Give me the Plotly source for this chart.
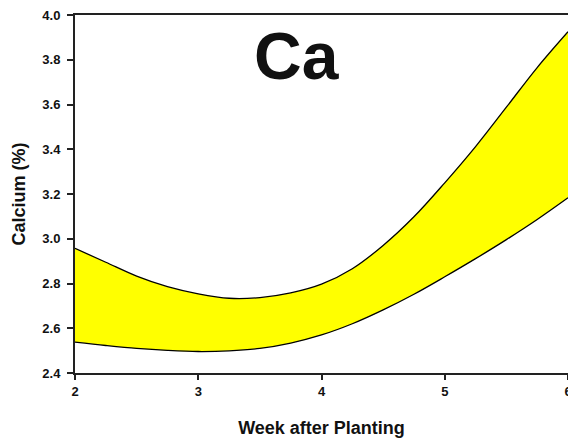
import plotly.graph_objects as go

weeks = [2.0, 2.25, 2.5, 2.75, 3.0, 3.25, 3.5, 3.75, 4.0, 4.25, 4.5, 4.75, 5.0, 5.25, 5.5, 5.75, 6.0]
upper = [2.957, 2.895, 2.833, 2.786, 2.754, 2.734, 2.737, 2.758, 2.797, 2.866, 2.970, 3.098, 3.250, 3.412, 3.588, 3.765, 3.925]
lower = [2.538, 2.523, 2.510, 2.501, 2.496, 2.499, 2.510, 2.534, 2.570, 2.620, 2.682, 2.752, 2.830, 2.911, 2.996, 3.086, 3.183]
x_ticks = [2, 3, 4, 5, 6]
y_ticks = [2.4, 2.6, 2.8, 3.0, 3.2, 3.4, 3.6, 3.8, 4.0]

fig = go.Figure()
fig.add_trace(go.Scatter(x=weeks, y=lower, mode="lines",
                         line=dict(color="black", width=1.3, shape="spline", smoothing=1.0),
                         showlegend=False, hoverinfo="skip"))
fig.add_trace(go.Scatter(x=weeks, y=upper, mode="lines", fill="tonexty",
                         fillcolor="#FFFF00",
                         line=dict(color="black", width=1.3, shape="spline", smoothing=1.0),
                         showlegend=False, hoverinfo="skip"))

font_family = "Liberation Sans, Arial, sans-serif"

fig.update_layout(
    width=568, height=439,
    margin=dict(l=75, r=0, t=15, b=66, autoexpand=False),
    paper_bgcolor="white", plot_bgcolor="white",
    font=dict(family=font_family, color="#111111"),
    annotations=[dict(text="<b>Ca</b>", x=0.45, y=0.885, xref="paper", yref="paper",
                      xanchor="center", yanchor="middle", showarrow=False,
                      font=dict(family=font_family, size=66, color="#111111"))],
)
fig.update_xaxes(
    range=[2, 6], tickvals=x_ticks, ticktext=[f"<b>{v}</b>" for v in x_ticks],
    showgrid=False, zeroline=False,
    showline=True, linecolor="#222222", linewidth=2, mirror=True,
    ticks="outside", ticklen=5, tickwidth=1.5, tickcolor="#222222",
    tickfont=dict(size=13, family=font_family, color="#111111"),
    ticklabeloverflow="allow",
    title=dict(text="<b>Week after Planting</b>", font=dict(size=18, family=font_family, color="#111111"), standoff=24),
    automargin=False,
)
fig.update_yaxes(
    range=[2.4, 4.0], tickvals=y_ticks, ticktext=[f"<b>{v:.1f}</b>" for v in y_ticks],
    showgrid=False, zeroline=False,
    showline=True, linecolor="#222222", linewidth=2, mirror=False,
    ticks="outside", ticklen=6, tickwidth=1.5, tickcolor="#222222",
    tickfont=dict(size=13, family=font_family, color="#111111"),
    ticklabelstandoff=4,
    title=dict(text="<b>Calcium (%)</b>", font=dict(size=18, family=font_family, color="#111111"), standoff=12),
    automargin=False,
)

fig.write_html("out.html", config={"displayModeBar": False},
               post_script="document.body.style.margin='0';document.body.style.overflow='hidden';")
